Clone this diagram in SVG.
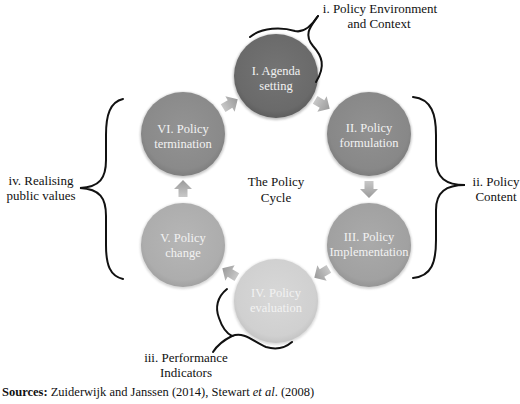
<svg xmlns="http://www.w3.org/2000/svg" width="520" height="404" viewBox="0 0 520 404">
<defs>
<filter id="soft" x="-20%" y="-20%" width="140%" height="140%"><feGaussianBlur stdDeviation="1.2"/></filter>
<radialGradient id="g1" cx="50%" cy="45%" r="55%"><stop offset="0" stop-color="#747474"/><stop offset="0.85" stop-color="#6a6a6a"/><stop offset="1" stop-color="#5e5e5e"/></radialGradient>
<radialGradient id="g2" cx="50%" cy="45%" r="55%"><stop offset="0" stop-color="#919191"/><stop offset="0.85" stop-color="#888888"/><stop offset="1" stop-color="#7c7c7c"/></radialGradient>
<radialGradient id="g3" cx="50%" cy="45%" r="55%"><stop offset="0" stop-color="#aaaaaa"/><stop offset="0.85" stop-color="#a1a1a1"/><stop offset="1" stop-color="#959595"/></radialGradient>
<radialGradient id="g4" cx="50%" cy="45%" r="55%"><stop offset="0" stop-color="#d8d8d8"/><stop offset="0.85" stop-color="#d0d0d0"/><stop offset="1" stop-color="#c4c4c4"/></radialGradient>
<radialGradient id="g5" cx="50%" cy="45%" r="55%"><stop offset="0" stop-color="#b6b6b6"/><stop offset="0.85" stop-color="#adadad"/><stop offset="1" stop-color="#a1a1a1"/></radialGradient>
<radialGradient id="g6" cx="50%" cy="45%" r="55%"><stop offset="0" stop-color="#939393"/><stop offset="0.85" stop-color="#8a8a8a"/><stop offset="1" stop-color="#7e7e7e"/></radialGradient>
<linearGradient id="ga" x1="0" y1="0" x2="1" y2="0"><stop offset="0" stop-color="#c8c8c8"/><stop offset="1" stop-color="#9a9a9a"/></linearGradient>
<polygon id="arr" points="-8,-4.5 0,-4.5 0,-9 9,0 0,9 0,4.5 -8,4.5" fill="url(#ga)"/>
</defs>
<style>
.ct{font-family:"Liberation Serif","Times New Roman",serif;font-size:12.5px;fill:#f2f2f2;text-anchor:middle}
.lt{font-family:"Liberation Serif","Times New Roman",serif;font-size:13px;fill:#111;text-anchor:middle}
.br{fill:none;stroke:#111;stroke-width:2;stroke-linecap:round}
</style>

<g id="connectors">
<use href="#arr" transform="translate(322,104) rotate(31)"/>
<use href="#arr" transform="translate(369,189) rotate(90)"/>
<use href="#arr" transform="translate(322,273) rotate(149)"/>
<use href="#arr" transform="translate(230,273) rotate(211)"/>
<use href="#arr" transform="translate(183,189) rotate(270)"/>
<use href="#arr" transform="translate(230,104) rotate(-31)"/>
</g>

<g id="n1"><circle cx="276" cy="77" r="43" fill="#4a4a4a" opacity="0.35" filter="url(#soft)"/><circle cx="276" cy="76" r="42" fill="url(#g1)"/><text class="ct" x="276" y="75">I. Agenda</text><text class="ct" x="276" y="90">setting</text></g>
<g id="n2"><circle cx="369" cy="135" r="43" fill="#4a4a4a" opacity="0.3" filter="url(#soft)"/><circle cx="369" cy="134" r="42" fill="url(#g2)"/><text class="ct" x="369" y="132">II. Policy</text><text class="ct" x="369" y="147">formulation</text></g>
<g id="n3"><circle cx="369" cy="246" r="43" fill="#4a4a4a" opacity="0.25" filter="url(#soft)"/><circle cx="369" cy="245" r="42" fill="url(#g3)"/><text class="ct" x="369" y="241">III. Policy</text><text class="ct" x="369" y="256">Implementation</text></g>
<g id="n4"><circle cx="276" cy="302" r="43" fill="#4a4a4a" opacity="0.2" filter="url(#soft)"/><circle cx="276" cy="301" r="42" fill="url(#g4)"/><text class="ct" x="276" y="297">IV. Policy</text><text class="ct" x="276" y="312">evaluation</text></g>
<g id="n5"><circle cx="183" cy="246" r="43" fill="#4a4a4a" opacity="0.22" filter="url(#soft)"/><circle cx="183" cy="245" r="42" fill="url(#g5)"/><text class="ct" x="183" y="242">V. Policy</text><text class="ct" x="183" y="257">change</text></g>
<g id="n6"><circle cx="183" cy="135" r="43" fill="#4a4a4a" opacity="0.3" filter="url(#soft)"/><circle cx="183" cy="134" r="42" fill="url(#g6)"/><text class="ct" x="183" y="133">VI. Policy</text><text class="ct" x="183" y="148">termination</text></g>

<g id="center"><text class="lt" x="276" y="186">The Policy</text><text class="lt" x="276" y="202">Cycle</text></g>

<g id="brace-i">
<path class="br" d="M250,37 C262,27 282,27 295,31 C303,33 310,28 318,16"/>
<path class="br" d="M318,16 C311,26 303,34 313,46 C322,56 326,66 316,82"/>
<text class="lt" x="380" y="13">i. Policy Environment</text><text class="lt" x="379" y="28">and Context</text>
</g>
<g id="brace-ii">
<path class="br" d="M413,97 C432,99 436,115 436,135 L436,160 C436,178 446,185 465,185 C446,185 436,192 436,210 L436,240 C436,262 432,276 413,278"/>
<text class="lt" x="496" y="186">ii. Policy</text><text class="lt" x="496" y="201">Content</text>
</g>
<g id="brace-iii">
<path class="br" d="M227,289 C217,297 215,308 219,318 C222,327 226,333 232,336 C224,340 218,344 213,352"/>
<path class="br" d="M232,336 C244,331 254,342 266,347 C276,350 285,348 292,342"/>
<text class="lt" x="186" y="362">iii. Performance</text><text class="lt" x="186" y="377">Indicators</text>
</g>
<g id="brace-iv">
<path class="br" d="M123,99 C110,102 106,115 106,135 L106,160 C106,178 100,187 80,188 C100,189 106,198 106,216 L106,245 C106,265 110,276 123,279"/>
<text class="lt" x="41" y="185">iv. Realising</text><text class="lt" x="41" y="200">public values</text>
</g>

<text x="2" y="396" font-family="Liberation Serif,Times New Roman,serif" font-size="12.5" fill="#111"><tspan font-weight="bold">Sources:</tspan> Zuiderwijk and Janssen (2014), Stewart <tspan font-style="italic">et al</tspan>. (2008)</text>
</svg>
